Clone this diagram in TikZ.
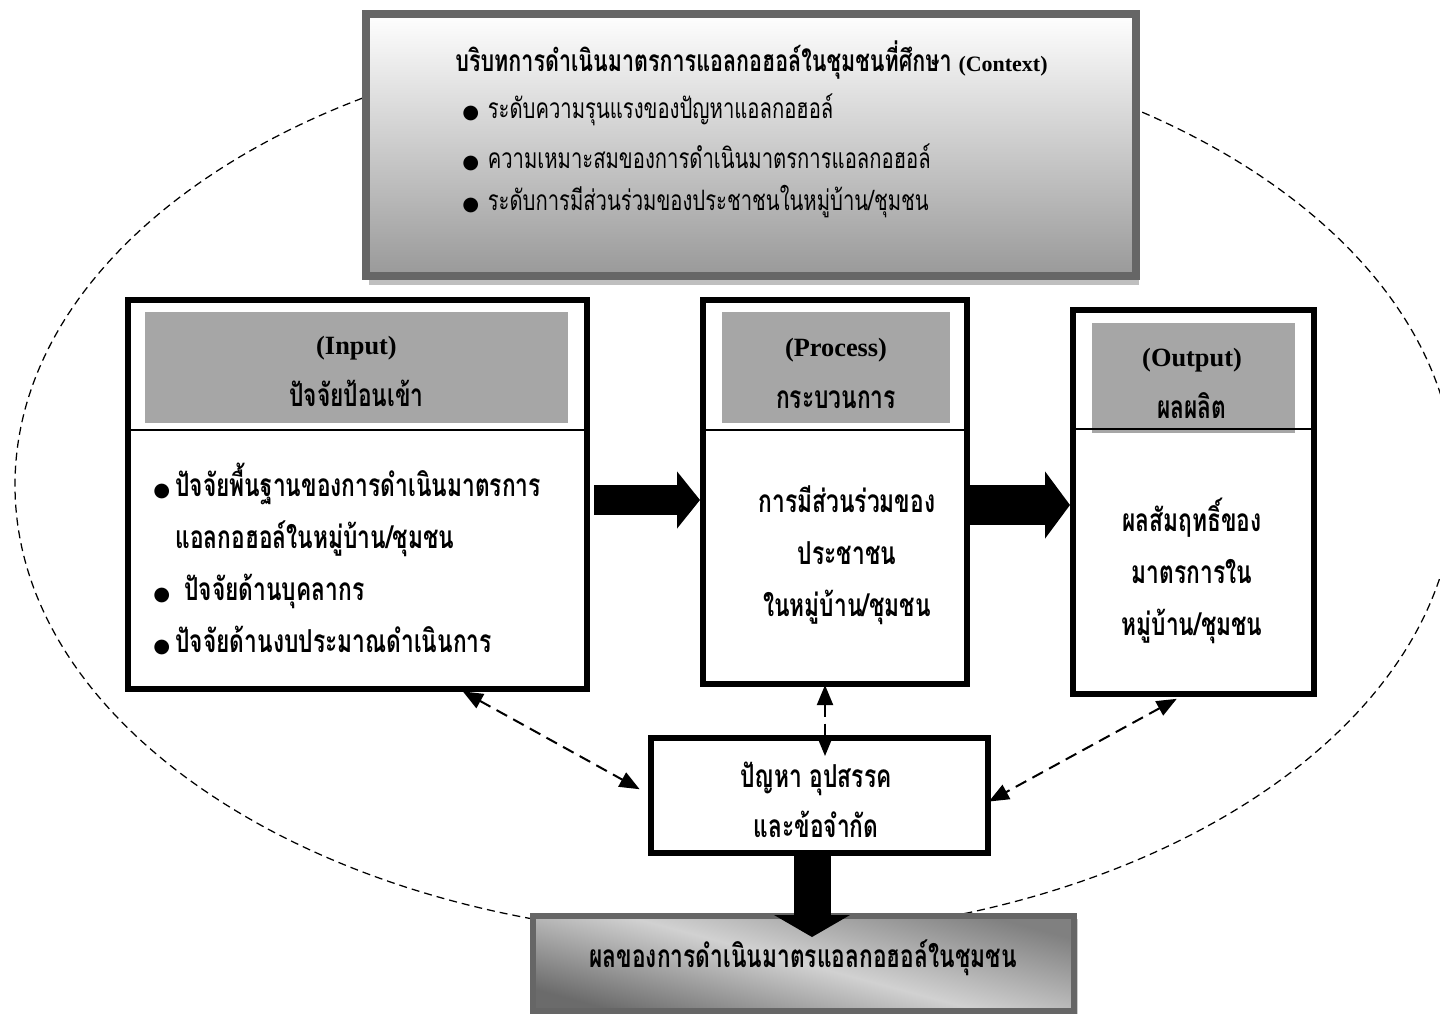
\documentclass[tikz,border=0pt]{standalone}
\usepackage{fontspec}
\setmainfont{Liberation Serif}
\newfontfamily\thaifont[Script=Thai,FakeStretch=0.72]{Loma}
\newfontfamily\symfont{DejaVu Sans}
\usetikzlibrary{arrows.meta, calc, positioning, shadows}
\newcommand{\tht}[1]{{\thaifont #1}}
\newcommand{\bul}{{\symfont\fontsize{11}{11}\selectfont ●}}

\begin{document}
\begin{tikzpicture}[x=0.2mm, y=-0.2mm, % 1 unit = 1 px of the layout
         > = {Triangle[length=4mm, width=3.2mm]},
ring/.style = {draw, line width=0.25mm, dash pattern=on 1.6mm off 1mm},
ctxbox/.style = {draw=black!60, line width=1.6mm,
              top color=white, bottom color=black!40,
              inner sep=0pt, outer sep=0pt,
              drop shadow={shadow xshift=0.6mm, shadow yshift=-1.8mm,
                           fill=black!25, opacity=1}},
stagebox/.style = {draw, line width=1.2mm, fill=white,
              inner sep=0pt, outer sep=0pt},
headbox/.style = {fill=black!35, inner sep=0pt, outer sep=0pt},
headtext/.style = {align=center, inner sep=0pt,
              font=\fontsize{15}{29.6}\selectfont\bfseries},
bodytext/.style = {inner sep=0pt,
              font=\thaifont\fontsize{18}{29.6}\selectfont\bfseries},
ctxtext/.style = {anchor=west, inner sep=0pt,
              font=\thaifont\fontsize{16}{26}\selectfont},
divider/.style = {line width=0.3mm},
blockarrow/.style args = {#1/#2/#3}{line width=#1,
              -{Triangle[width=#2, length=#3]}},
linkarrow/.style = {<->, line width=0.4mm,
              dash pattern=on 2.4mm off 1.4mm}
                        ]
	\useasboundingbox (0,0) rectangle (1440,1014);

	% dashed ring behind everything
	\draw[ring] (735,485) ellipse [x radius=144mm, y radius=90.4mm];

	% context
	\node[ctxbox, minimum width=154mm, minimum height=52.4mm] (context) at (751,145) {};
	\node[ctxtext] (ctxtitle) at (455,60)
	     {\tht{\bfseries\fontsize{17}{26}\selectfont บริบทการดำเนินมาตรการแอลกอฮอล์ในชุมชนที่ศึกษา}
	      {\rmfamily\fontsize{12.5}{26}\selectfont\bfseries (Context)}};
	\node[ctxtext] (ctxa) at (462,110) {\bul\hspace{1pt} ระดับความรุนแรงของปัญหาแอลกอฮอล์};
	\node[ctxtext] (ctxb) at (462,157) {\bul\hspace{1pt} ความเหมาะสมของการดำเนินมาตรการแอลกอฮอล์};
	\node[ctxtext] (ctxc) at (462,202) {\bul\hspace{1pt} ระดับการมีส่วนร่วมของประชาชนในหมู่บ้าน/ชุมชน};

	% input
	\node[stagebox, minimum width=91.8mm, minimum height=77.8mm] (input) at (357.5,494.5) {};
	\node[headbox, minimum width=84.6mm, minimum height=22.2mm] (inhead) at (356.5,367.5) {};
	\node[headtext] (inheadtxt) at (356.5,371) {(Input)\\\tht{\fontsize{18}{29.6}\selectfont ปัจจัยป้อนเข้า}};
	\draw[divider] (input.west |- 0,430) -- (input.east |- 0,430);
	\node[bodytext, anchor=west, align=left] (inbody) at (153,559)
	     {\bul\hspace{3pt}ปัจจัยพื้นฐานของการดำเนินมาตรการ\\
	      \phantom{\bul\hspace{3pt}}แอลกอฮอล์ในหมู่บ้าน/ชุมชน\\
	      \bul\hspace{8pt}ปัจจัยด้านบุคลากร\\
	      \bul\hspace{3pt}ปัจจัยด้านงบประมาณดำเนินการ};

	% process
	\node[stagebox, minimum width=52.8mm, minimum height=76.8mm] (process) at (835,492) {};
	\node[headbox, minimum width=45.6mm, minimum height=22.2mm] (prochead) at (836,367.5) {};
	\node[headtext] (procheadtxt) at (836,373.5) {(Process)\\\tht{\fontsize{18}{29.6}\selectfont กระบวนการ}};
	\draw[divider] (process.west |- 0,430) -- (process.east |- 0,430);
	\node[bodytext, align=center] (procbody) at (847,555)
	     {การมีส่วนร่วมของ\\ประชาชน\\ในหมู่บ้าน/ชุมชน};

	% output
	\node[stagebox, minimum width=48.2mm, minimum height=76.8mm] (output) at (1193.5,502) {};
	\node[headbox, minimum width=40.6mm, minimum height=22mm] (outhead) at (1193.5,378) {};
	\draw[divider] (output.west |- 0,429) -- (output.east |- 0,429);
	\node[headtext] (outheadtxt) at (1192,383.5) {(Output)\\\tht{\fontsize{18}{29.6}\selectfont ผลผลิต}};
	\node[bodytext, align=center] (outbody) at (1192,571)
	     {ผลสัมฤทธิ์ของ\\มาตรการใน\\หมู่บ้าน/ชุมชน};

	% problems
	\node[stagebox, minimum width=67.4mm, minimum height=23mm] (problems) at (819.5,795.5) {};
	\node[bodytext, align=center, font=\thaifont\fontsize{18}{28.5}\selectfont\bfseries] (probtxt) at (816,800)
	     {ปัญหา อุปสรรค\\และข้อจำกัด};

	% result
	\node[draw=black!60, line width=1.2mm, inner sep=0pt, outer sep=0pt,
	      top color=black!50, bottom color=black!58, middle color=black!18, shading angle=-15,
	      drop shadow={shadow xshift=0.8mm, shadow yshift=-0.6mm, fill=black!20, opacity=1},
	      minimum width=108.2mm, minimum height=19mm] (result) at (803.5,963.5) {};
	\node[bodytext] (resulttxt) at (803,958) {ผลของการดำเนินมาตรแอลกอฮอล์ในชุมชน};

	% block arrows
	\coordinate (ina) at ([yshift=-1.1mm]input.east);
	\draw[blockarrow=6mm/11.2mm/4.6mm, shorten <=1.4mm, shorten >=0.6mm] (ina) -- (ina -| process.west);
	\coordinate (proca) at ([yshift=-2.6mm]process.east);
	\draw[blockarrow=8mm/13.2mm/5mm, shorten <=0.6mm, shorten >=0.6mm] (proca) -- (proca -| output.west);
	\coordinate (proba) at ([xshift=-1.5mm]problems.south);
	\draw[blockarrow=7.4mm/15mm/4.4mm, shorten >=-4.2mm] (proba) -- (proba |- result.north);

	% dashed links
	\draw[linkarrow, shorten <=1mm, shorten >=2.6mm]
	     ($(input.south west)!0.72!(input.south east)$) -- (problems.west);
	\coordinate (procb) at ([xshift=-2mm]process.south);
	\draw[linkarrow, shorten <=0.2mm, shorten >=-3.6mm] (procb) -- (procb |- problems.north);
	\draw[linkarrow, shorten <=2mm, shorten >=0.2mm]
	     ([xshift=-1.6mm]output.south) -- ([yshift=-1.3mm]problems.east);
\end{tikzpicture}
\end{document}
